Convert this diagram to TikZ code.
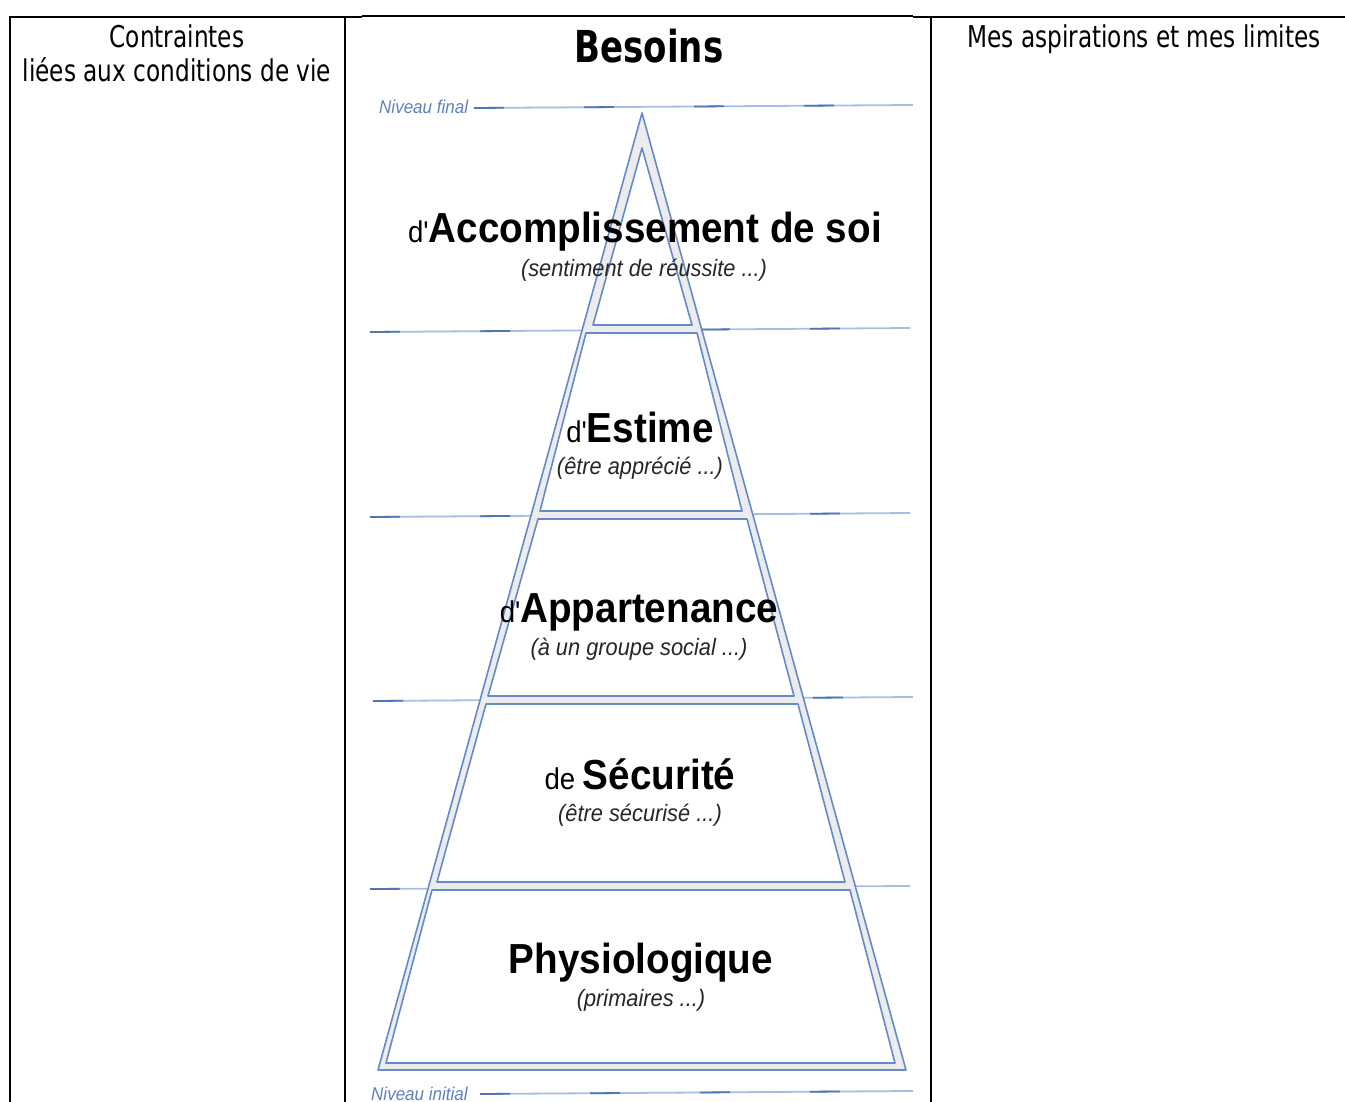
\documentclass[tikz,border=0pt]{standalone}
\usepackage{fontspec}
\newfontfamily\hdrfont{DejaVu Sans Condensed}[FakeStretch=0.86]
\newfontfamily\pyrfont{Liberation Sans}[FakeStretch=0.92]
\definecolor{pyrblue}{RGB}{100,138,200}
\definecolor{bandgray}{RGB}{236,236,236}
\definecolor{lvllight}{RGB}{165,190,228}
\definecolor{lvldark}{RGB}{80,118,186}
\definecolor{lvltext}{RGB}{95,128,190}
\tikzset{
  rule/.style={line width=2.4pt,black},
  lvlline/.style={line width=1.8pt,lvllight},
  lvldash/.style={line width=1.8pt,lvldark,dash pattern=on 30pt off 80pt},
  band/.style={draw=pyrblue,line width=1.6pt,fill=bandgray,line join=round},
  stage/.style={draw=pyrblue,line width=1.6pt,fill=white,line join=round},
  head/.style={font=\hdrfont\fontsize{30}{36}\selectfont,align=center,anchor=base,inner sep=0pt},
  need/.style={font=\pyrfont\bfseries\fontsize{42}{46}\selectfont,anchor=base,inner sep=0pt},
  hint/.style={font=\pyrfont\itshape\fontsize{23.7}{27}\selectfont,text=black!85,anchor=base,inner sep=0pt},
  level/.style={font=\pyrfont\itshape\fontsize{18.5}{21}\selectfont,text=lvltext,anchor=base west,inner sep=0pt}
}
\newcommand{\pre}[1]{{\mdseries\fontsize{30}{33}\selectfont #1}}
\begin{document}
\begin{tikzpicture}[x=1pt,y=-1pt]
\useasboundingbox (0,0) rectangle (1345,1102);

% table
\draw[rule] (10,1102) -- (10,17) -- (362,17);
\draw[line width=1.2pt] (362,16) -- (913,16);
\draw[rule] (913,17) -- (1345,17);
\draw[rule] (345,17) -- (345,1102);
\draw[rule] (931,17) -- (931,1102);

\node[head] (contr) at (177,48) {Contraintes};
\node[head] (contr2) at (177,82) {liées aux conditions de vie};
\node[head] (aspir) at (1144,48) {Mes aspirations et mes limites};
\node[head,font=\hdrfont\bfseries\fontsize{44}{48}\selectfont] (besoins) at (649,63) {Besoins};

% level lines
\coordinate (f1) at (474,108);  \coordinate (f2) at (913,105);
\coordinate (a1) at (370,332);  \coordinate (a2) at (910,328);
\coordinate (b1) at (370,517);  \coordinate (b2) at (910,513);
\coordinate (c1) at (373,701);  \coordinate (c2) at (913,697);
\coordinate (d1) at (370,889);  \coordinate (d2) at (910,886);
\coordinate (i1) at (480,1094); \coordinate (i2) at (913,1091);
\foreach \p/\q in {f1/f2,a1/a2,b1/b2,c1/c2,d1/d2,i1/i2}{
  \draw[lvlline] (\p) -- (\q);
  \draw[lvldash] (\p) -- (\q);
}
\node[level] (final) at (379,114) {Niveau final};
\node[level] (initial) at (371,1100) {Niveau initial};

% pyramid
\draw[band] (642,113) -- (906,1070) -- (378,1070) -- cycle;
\draw[stage] (642,148) -- (692,325) -- (593,325) -- cycle;
\draw[stage] (586,333) -- (697,333) -- (742,511) -- (540,511) -- cycle;
\draw[stage] (538,519) -- (747,519) -- (794,696) -- (488,696) -- cycle;
\draw[stage] (486,704) -- (798,704) -- (845,882) -- (437,882) -- cycle;
\draw[stage] (432,890) -- (850,890) -- (895,1063) -- (386,1063) -- cycle;

\node[need] (soi) at (645,243) {\pre{d'}Accomplissement de soi};
\node[hint] (soi2) at (644,277) {(sentiment de réussite ...)};
\node[need] (estime) at (640,442) {\pre{d'}Estime};
\node[hint] (estime2) at (640,474) {(être apprécié ...)};
\node[need] (appart) at (639,622) {\pre{d'}Appartenance};
\node[hint] (appart2) at (639,655) {(à un groupe social ...)};
\node[need] (secu) at (640,789) {\pre{de }Sécurité};
\node[hint] (secu2) at (640,821) {(être sécurisé ...)};
\node[need] (physio) at (641,973) {Physiologique};
\node[hint] (physio2) at (641,1006) {(primaires ...)};
\end{tikzpicture}
\end{document}
